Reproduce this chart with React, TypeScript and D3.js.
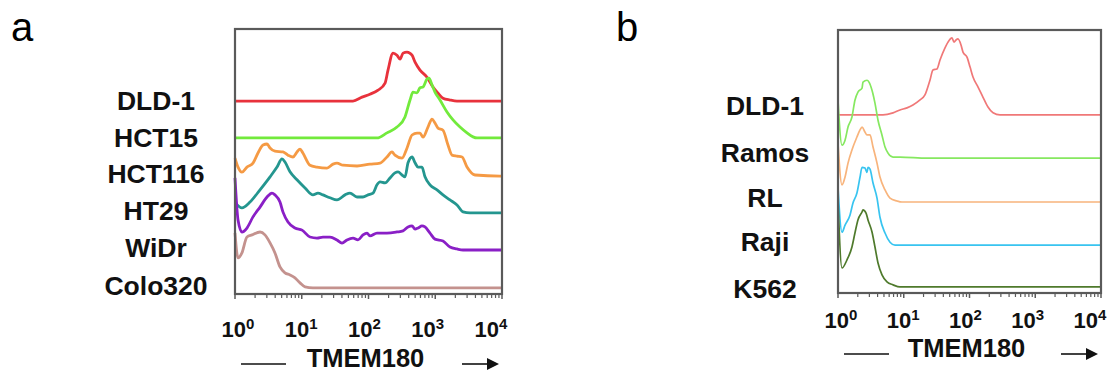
import * as d3 from "d3";

// TMEM180 intensity (log axis) and histogram heights (% of panel height, above each trace's baseline)
const xTicks = [1, 10, 100, 1000, 10000];
const tickExp = ["0", "1", "2", "3", "4"];

const namesA = ["DLD-1", "HCT15", "HCT116", "HT29", "WiDr", "Colo320"];
const colorsA = ["#e8323c", "#72ea3c", "#f59a44", "#24968f", "#8a1fc6", "#c4928e"];
const offsetsA = [72.8, 58.9, 44.5, 30.6, 16.6, 2.3];

const dldA = [[1, 0], [58.6, 0], [80, 1.5], [105, 2.6], [139, 4.1], [177, 6.8], [196, 11.7], [233, 18.1], [267, 17.3], [297, 15.8], [329, 18.1], [378, 18.5], [449, 17.3], [498, 14.7], [591, 11.7], [752, 9], [925, 5.3], [1100, 3], [1306, 1.1], [1663, 0.4], [2118, 0], [10000, 0]];
const hct15 = [[1, 0], [134, 0], [189, 1.9], [267, 4.1], [352, 7.9], [419, 14.3], [464, 17.3], [533, 17], [591, 18.9], [655, 19.2], [752, 22.2], [805, 22.6], [894, 20], [991, 17.3], [1178, 14.3], [1500, 9.8], [1845, 6.8], [2349, 4.1], [2990, 1.9], [3680, 0.4], [4224, 0], [10000, 0]];
const hct116 = [[1, 6.8], [1.11, 3.4], [1.27, 1.5], [1.51, 3.4], [1.86, 4.9], [2.21, 8.7], [2.63, 11.7], [3.02, 12.1], [3.35, 10.6], [3.97, 9.4], [5.24, 9.1], [6.22, 7.9], [7.39, 7.2], [8.49, 9.1], [9.42, 10.2], [10.4, 8.7], [13.3, 4.1], [16.9, 3.4], [23.9, 3], [29.4, 4.5], [33.7, 4.9], [41.5, 4.1], [67.3, 3.8], [105, 4.5], [149, 4.9], [189, 7.2], [225, 9.1], [249, 7.9], [318, 6.8], [378, 10.6], [449, 15.5], [533, 16.2], [591, 16.2], [655, 14.7], [778, 18.5], [894, 21.5], [991, 20], [1100, 18.1], [1306, 17.3], [1552, 11.7], [1782, 7.9], [2118, 7.5], [2518, 7.2], [2990, 3.4], [3942, 0.4], [9330, 0], [10000, 0]];
const ht29 = [[1, 4], [1.27, 1.9], [1.68, 4.1], [2.37, 8.7], [3.35, 13.6], [4.26, 17.3], [5.06, 20.4], [5.61, 19.2], [6.67, 15.5], [8.49, 12.5], [11.2, 9.4], [14.7, 6.8], [17.5, 7.5], [20.8, 6.8], [26.5, 5.7], [33.7, 4.9], [44.5, 6.8], [52.8, 7.5], [67.3, 6], [82.7, 6], [98.4, 6.8], [117, 7.5], [134, 10.6], [149, 11.7], [177, 11.3], [210, 13.2], [249, 15.1], [277, 15.5], [318, 14.3], [352, 13.6], [391, 18.9], [449, 21.1], [498, 18.9], [552, 17.3], [633, 17.3], [702, 13.6], [834, 10.6], [1062, 8.7], [1306, 6.8], [1663, 4.9], [2118, 3], [2606, 0.4], [3318, 0], [10000, 0]];
const widr = [[1, 27.2], [1.11, 11.3], [1.27, 6.8], [1.51, 8.3], [1.86, 12.5], [2.37, 16.2], [3.02, 20], [3.58, 21.5], [3.97, 20.8], [4.72, 18.1], [5.24, 14.3], [6.22, 10.6], [7.92, 8.3], [10.1, 7.5], [13.3, 4.9], [16.9, 4.5], [20.8, 4.9], [26.5, 4.9], [33.7, 3.8], [40.1, 2.6], [47.6, 3.8], [58.6, 4.5], [69.6, 3.8], [82.7, 5.7], [95, 6.4], [105, 5.3], [134, 6.4], [189, 6.4], [267, 6.8], [329, 7.2], [391, 8.7], [449, 9.1], [498, 7.9], [552, 8.3], [633, 9.1], [702, 8.7], [834, 6.4], [991, 4.1], [1306, 3.4], [1663, 1.1], [2118, 0.4], [2606, 0], [10000, 0]];
const colo320 = [[1, 20.8], [1.11, 11.3], [1.27, 13.2], [1.51, 19.2], [1.8, 20], [2.37, 21.1], [2.81, 20], [3.35, 17], [3.97, 13.2], [4.72, 7.9], [5.61, 5.7], [6.67, 4.9], [7.92, 3.8], [9.42, 1.9], [11.2, 0.4], [14.7, 0], [10000, 0]];

const namesB = ["DLD-1", "Ramos", "RL", "Raji", "K562"];
const colorsB = ["#f07878", "#86e860", "#f8b47c", "#38c4f0", "#4f7a2c"];
const offsetsB = [67.7, 51.3, 34.6, 18.2, 2.3];

const dldB = [[1, 0], [4.83, 0], [6.87, 0.8], [8.77, 1.9], [11.2, 2.7], [13.8, 3.8], [17.7, 5.7], [21, 7.6], [25.1, 13.3], [27.8, 17.1], [32, 17.5], [35.6, 20.9], [42.4, 25.5], [47.1, 27.7], [54.2, 29.3], [58.1, 27.7], [62.3, 28.5], [66.8, 28.9], [74.3, 26.6], [79.6, 23.9], [91.6, 22], [102, 18.2], [113, 14.4], [135, 10.6], [160, 6.8], [191, 3], [228, 0.8], [291, 0], [10000, 0]];
const ramos = [[1, 22], [1.15, 4.9], [1.28, 6.8], [1.42, 11.8], [1.63, 15.6], [1.81, 22], [2.01, 25.1], [2.32, 26.6], [2.4, 28.9], [2.76, 29.6], [2.96, 28.9], [3.29, 25.8], [3.65, 20.9], [4.06, 14.4], [4.67, 8.7], [5.19, 4.2], [5.76, 1.9], [6.87, 0.4], [8.77, 0.4], [22.6, 0], [10000, 0]];
const rl = [[1, 22.4], [1.15, 6.5], [1.28, 9.5], [1.42, 14.8], [1.63, 19.8], [1.94, 24.7], [2.16, 27.4], [2.32, 28.5], [2.57, 26.6], [2.76, 25.5], [3.07, 25.5], [3.41, 20.9], [3.92, 14.8], [4.35, 9.5], [5.19, 4.6], [6.18, 1.5], [7.89, 0.4], [9.4, 0], [10000, 0]];
const raji = [[1, 22], [1.15, 4.9], [1.28, 7.6], [1.52, 11.4], [1.69, 16], [1.94, 19.8], [2.16, 25.8], [2.32, 29.6], [2.57, 29.3], [2.76, 27.7], [2.86, 29.6], [3.07, 28.9], [3.41, 23.6], [3.92, 17.9], [4.35, 10.6], [5.19, 4.6], [6.18, 1.1], [7.36, 0], [10000, 0]];
const k562 = [[1, 33], [1.15, 7.2], [1.37, 10.3], [1.63, 15.2], [1.81, 20.5], [2.01, 25.5], [2.32, 28.5], [2.4, 29.3], [2.67, 28.1], [2.86, 25.5], [3.29, 20.9], [3.65, 15.2], [4.06, 9.1], [4.67, 4.6], [5.56, 1.9], [6.87, 0.8], [8.77, 0], [10000, 0]];

const seriesA = [dldA, hct15, hct116, ht29, widr, colo320];
const seriesB = [dldB, ramos, rl, raji, k562];

const font = "Arial, 'Liberation Sans', sans-serif";

interface PanelProps {
    letter: string;
    letterX: number;
    left: number; top: number; right: number; bottom: number;
    names: string[];
    colors: string[];
    offsets: number[];
    series: number[][][];
    nameX: number;
    nameY: number[];
    tickY: number;
    titleY: number;
    lineW: number;
}

function Panel({ letter, letterX, left, top, right, bottom, names, colors, offsets, series, nameX, nameY, tickY, titleY, lineW }: PanelProps) {
    const x = d3.scaleLog().domain([1, 10000]).range([left, right]);
    const xl = d3.scaleLog().domain([1, 10000]).range([left + 3, right - 11]);
    const y = d3.scaleLinear().domain([0, 100]).range([bottom, top]);
    const minor: number[] = [];
    for (let e = 0; e < 4; e++) for (let m = 2; m <= 9; m++) minor.push(m * Math.pow(10, e));
    const mid = (left + right) / 2;

    return (
        <g>
            <text x={letterX} y={41} fontFamily={font} fontSize={40}>{letter}</text>
            {series.map((s, i) => {
                const line = d3.line<number[]>()
                    .x(d => x(d[0]))
                    .y(d => y(d[1] + offsets[i]))
                    .curve(d3.curveMonotoneX);
                return <path key={i} d={line(s) ?? ""} fill="none" stroke={colors[i]} strokeWidth={lineW} strokeLinejoin="round" />;
            })}
            <rect x={left} y={top} width={right - left} height={bottom - top} fill="none" stroke="#5a5a5a" strokeWidth={2.2} />
            {minor.map((v, i) => (
                <line key={"m" + i} x1={x(v)} x2={x(v)} y1={bottom} y2={bottom + 4} stroke="#5a5a5a" strokeWidth={1.2} />
            ))}
            {xTicks.map((v, i) => (
                <line key={"t" + i} x1={x(v)} x2={x(v)} y1={bottom} y2={bottom + 5} stroke="#5a5a5a" strokeWidth={1.5} />
            ))}
            {xTicks.map((v, i) => (
                <text key={"l" + i} x={xl(v)} y={tickY} textAnchor="middle" fontFamily={font} fontWeight="bold" fontSize={22} fill="#111">
                    10<tspan fontSize={15} dy={-8}>{tickExp[i]}</tspan>
                </text>
            ))}
            {names.map((n, i) => (
                <text key={"n" + i} x={nameX} y={nameY[i]} textAnchor="middle" fontFamily={font} fontWeight="bold" fontSize={26.5} fill="#111">{n}</text>
            ))}
            <text x={mid - 3} y={titleY} textAnchor="middle" fontFamily={font} fontWeight="bold" fontSize={25.5} fill="#111">TMEM180</text>
            <line x1={left + 6} x2={left + 51} y1={titleY - 3} y2={titleY - 3} stroke="#111" strokeWidth={1.6} />
            <line x1={right - 40} x2={right - 10} y1={titleY - 3} y2={titleY - 3} stroke="#111" strokeWidth={1.6} />
            <path d={`M${right - 3},${titleY - 3} L${right - 15},${titleY - 9} L${right - 15},${titleY + 3} Z`} fill="#111" />
        </g>
    );
}

export default function App() {
    return (
        <svg width={1110} height={376} style={{ position: "absolute", left: 0, top: 0, background: "#fff" }}>
            <Panel letter="a" letterX={11} left={235} top={29} right={502} bottom={294}
                names={namesA} colors={colorsA} offsets={offsetsA} series={seriesA}
                nameX={156} nameY={[110, 147, 183, 220, 257, 295]} tickY={337} titleY={367} lineW={2.8} />
            <Panel letter="b" letterX={616} left={838} top={30} right={1101} bottom={293}
                names={namesB} colors={colorsB} offsets={offsetsB} series={seriesB}
                nameX={765} nameY={[115, 162, 207, 251, 298]} tickY={328} titleY={357} lineW={1.7} />
        </svg>
    );
}
